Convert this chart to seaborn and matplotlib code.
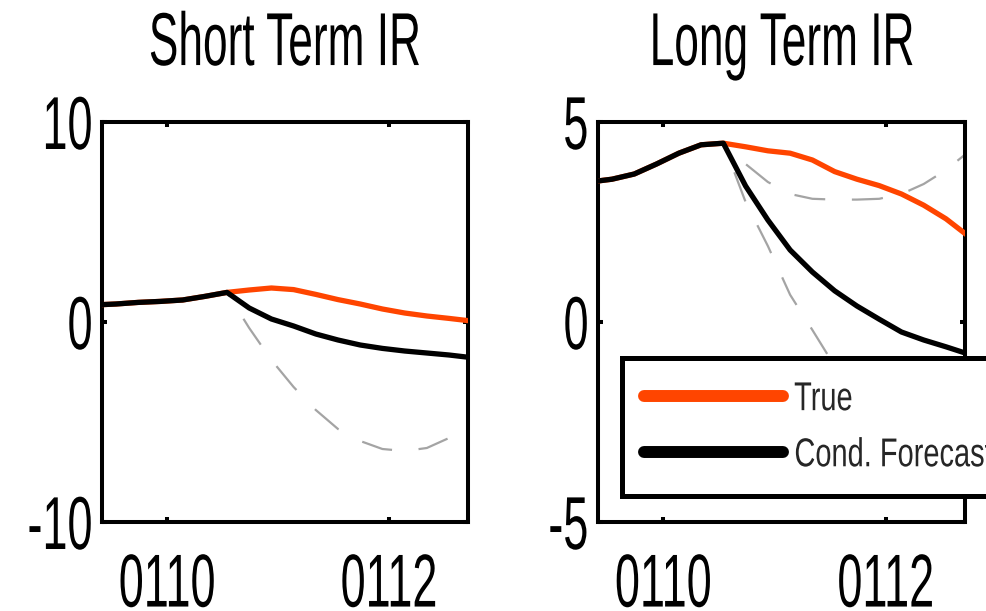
import matplotlib
matplotlib.use("Agg")
import matplotlib.pyplot as plt
from matplotlib.patheffects import AbstractPathEffect
from matplotlib.transforms import Affine2D
import seaborn as sns

# Time axis (months, 10 = "0110", 12 = "0112")
months = [9.34, 9.54, 9.74, 9.94, 10.14, 10.34, 10.54, 10.74, 10.94, 11.14,
          11.34, 11.54, 11.74, 11.94, 12.14, 12.34, 12.54, 12.74]
fc_start = 6  # index where the conditional forecast begins
month_ticks = [10, 12]
month_labels = ["0110", "0112"]

# Short term interest rate
short_true = [0.85, 0.90, 0.98, 1.03, 1.10, 1.28, 1.48, 1.60, 1.70, 1.62,
              1.38, 1.12, 0.90, 0.65, 0.45, 0.30, 0.18, 0.05]
short_fc = [0.85, 0.90, 0.98, 1.03, 1.10, 1.28, 1.48, 0.70, 0.15, -0.20,
            -0.60, -0.90, -1.15, -1.32, -1.45, -1.55, -1.65, -1.78]
short_lo = [1.48, -0.30, -1.90, -3.25, -4.40, -5.35, -5.95, -6.35, -6.45,
            -6.30, -5.80, -5.15]

# Long term interest rate
long_true = [3.50, 3.57, 3.70, 3.95, 4.22, 4.43, 4.47, 4.38, 4.28, 4.22,
             4.05, 3.76, 3.57, 3.41, 3.20, 2.92, 2.58, 2.15]
long_fc = [3.50, 3.57, 3.70, 3.95, 4.22, 4.43, 4.47, 3.40, 2.55, 1.80,
           1.25, 0.78, 0.40, 0.07, -0.25, -0.45, -0.62, -0.80]
long_hi = [4.47, 3.95, 3.50, 3.20, 3.08, 3.06, 3.06, 3.08, 3.20, 3.45,
           3.80, 4.25]
long_lo = [4.47, 3.00, 1.90, 0.68, -0.20, -1.10, -1.90, -2.60, -3.20,
           -3.70, -4.10, -4.40]

titles = ["Short Term IR", "Long Term IR"]
y_ticks = [[-10, 0, 10], [-5, 0, 5]]
y_limits = [(-10, 10), (-5, 5)]


class SqueezeX(AbstractPathEffect):
    """Draw text glyphs narrowed horizontally about one of their edges."""

    def __init__(self, factor, anchor="center"):
        super().__init__()
        self.factor = factor
        self.anchor = anchor

    def draw_path(self, renderer, gc, tpath, affine, rgbFace=None):
        ext = tpath.get_extents(affine)
        px = {"left": ext.x0, "center": 0.5 * (ext.x0 + ext.x1),
              "right": ext.x1}[self.anchor]
        squeeze = Affine2D().translate(-px, 0).scale(self.factor, 1).translate(px, 0)
        renderer.draw_path(gc, tpath, affine + squeeze, rgbFace)


sns.set_theme(style="white")
plt.rcParams["font.family"] = ["Liberation Sans", "DejaVu Sans"]
plt.rcParams["axes.unicode_minus"] = False

RED = "#FF4500"
GRAY = "#A4A4A4"
BIG = 54
NARROW = 0.6
W, H = 986, 611
fig = plt.figure(figsize=(W / 100, H / 100), dpi=100)
fig.patch.set_facecolor("white")

axes = [
    fig.add_axes([102 / W, 89 / H, 366 / W, 400 / H]),
    fig.add_axes([598 / W, 89 / H, 367 / W, 400 / H]),
]

fc_months = months[fc_start:]
bands = [[short_lo], [long_hi, long_lo]]
trues = [short_true, long_true]
fcs = [short_fc, long_fc]

for i, ax in enumerate(axes):
    for band in bands[i]:
        sns.lineplot(x=fc_months, y=band, ax=ax, color=GRAY, linewidth=1.6,
                     linestyle=(12, (14, 12)), zorder=2)
    sns.lineplot(x=months, y=trues[i], ax=ax, color=RED, linewidth=3.8,
                 label="True", zorder=3)
    sns.lineplot(x=months, y=fcs[i], ax=ax, color="black", linewidth=3.8,
                 label="Cond. Forecast", zorder=4)

    ax.set_xlim(9.414, 12.711)
    ax.set_ylim(*y_limits[i])
    ax.set_xticks(month_ticks)
    ax.set_xticklabels(month_labels)
    ax.set_yticks(y_ticks[i])
    ax.set_yticklabels([str(v) for v in y_ticks[i]])
    ax.set_xlabel("")
    ax.set_ylabel("")
    title = ax.set_title(titles[i], fontsize=BIG, pad=41, color="black")
    title.set_path_effects([SqueezeX(0.59, "center")])
    for s in ax.spines.values():
        s.set_visible(True)
        s.set_color("black")
        s.set_linewidth(2.9)
    ax.tick_params(axis="both", direction="in", length=3.6, width=2.9,
                   top=True, right=True, bottom=True, left=True,
                   labelsize=BIG, colors="black")
    ax.tick_params(axis="x", pad=22)
    ax.tick_params(axis="y", pad=6)
    ax.grid(False)
    for tick in ax.xaxis.get_major_ticks():
        tick.label1.set_path_effects([SqueezeX(NARROW, "center")])
    for tick in ax.yaxis.get_major_ticks():
        tick.label1.set_path_effects([SqueezeX(NARROW, "right")])
    if ax.get_legend() is not None:
        ax.get_legend().remove()

handles, labels = axes[1].get_legend_handles_labels()
leg = axes[1].legend(handles[:2], labels[:2], loc="upper left",
                     bbox_to_anchor=(0.065, 0.41), borderaxespad=0,
                     fontsize=29, handlelength=3.45, handletextpad=0.27,
                     borderpad=0.55, labelspacing=0.45, fancybox=False,
                     framealpha=1, edgecolor="black")
leg.get_frame().set_linewidth(3.6)
for ln in leg.get_lines():
    ln.set_linewidth(8.6)
for txt in leg.get_texts():
    txt.set_path_effects([SqueezeX(0.72, "left")])

fig.savefig("out.png", dpi=100, facecolor="white")
